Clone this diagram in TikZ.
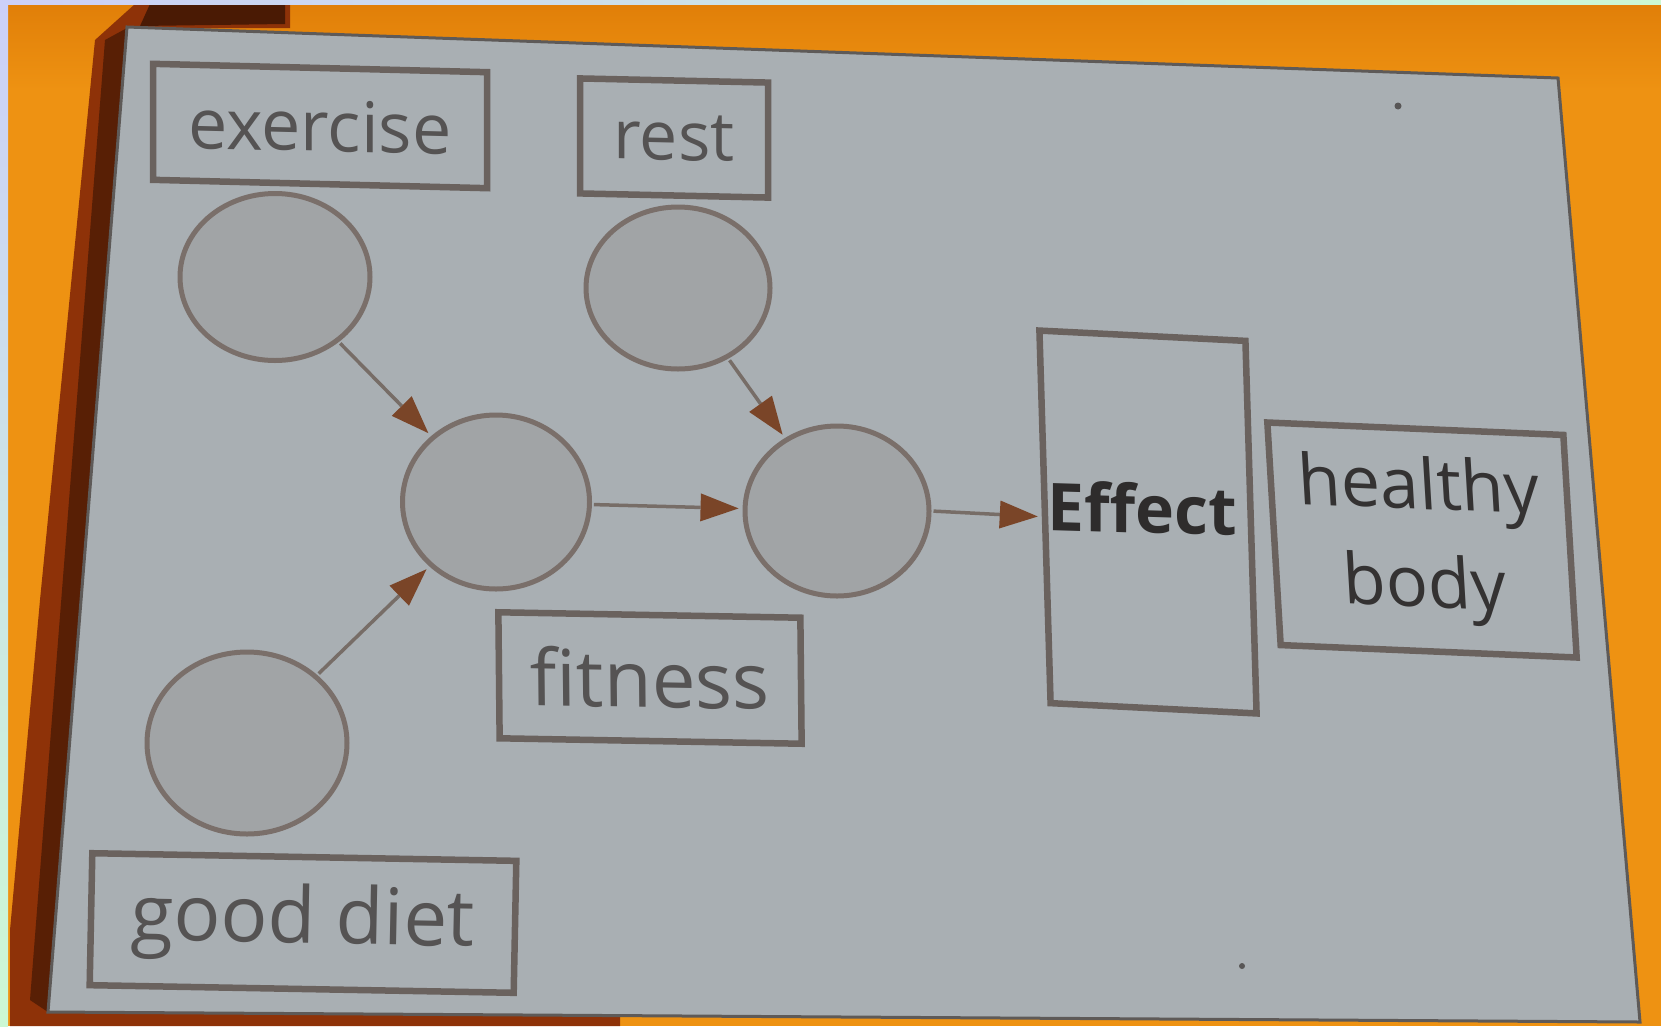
\documentclass[tikz,border=0pt]{standalone}
\usepackage{fontspec}
\setmainfont{Open Sans}
\usetikzlibrary{shapes.geometric,arrows.meta}
\definecolor{orng}{HTML}{EE9212}
\definecolor{orngdk}{HTML}{E07E08}
\definecolor{brwn}{HTML}{8E3208}
\definecolor{brwndk}{HTML}{4A1A04}
\definecolor{card}{HTML}{A9AFB3}
\definecolor{cardedge}{HTML}{5E5A58}
\definecolor{boxline}{HTML}{6A625E}
\definecolor{circline}{HTML}{7A6F6A}
\definecolor{circfill}{HTML}{A1A4A6}
\definecolor{arrline}{HTML}{776D67}
\definecolor{arrhead}{HTML}{7A4528}
\definecolor{txtgrey}{HTML}{555353}
\definecolor{txtdark}{HTML}{2E2C2C}
\definecolor{lav}{HTML}{CCD0F8}
\definecolor{mint}{HTML}{CCF8D4}
\tikzset{
  labelbox/.style={draw=boxline, line width=6.5pt, fill=card, inner sep=0pt, text=txtgrey},
  bubble/.style={ellipse, draw=circline, line width=5pt, fill=circfill, inner sep=0pt},
  link/.style={draw=arrline, line width=3.5pt, -{Triangle[length=38pt,width=28pt,fill=arrhead,line width=0pt]}, shorten >=4pt, shorten <=2pt},
  speck/.style={circle, fill=txtdark!80, inner sep=0pt, minimum size=7pt}
}
\begin{document}
\begin{tikzpicture}[x=1pt,y=-1pt]
\useasboundingbox (0,0) rectangle (1661,1026);
% background
\fill[orng] (0,0) rectangle (1661,1026);
\shade[top color=orngdk, bottom color=orng] (0,0) rectangle (1661,90);
\fill[brwn] (135,4) -- (290,4) -- (290,28) -- (127,28) -- (48,1012) -- (620,1016) -- (620,1026) -- (10,1026) -- (10,930) -- (40,600) -- (95,40) -- cycle;
\fill[brwndk] (150,4) -- (285,4) -- (285,24) -- (140,26) -- cycle;
\fill[brwndk!80!brwn] (127,28) -- (48,1012) -- (30,1000) -- (105,40) -- cycle;
% light frame
\shade[top color=lav, bottom color=mint] (0,0) rectangle (8,1026);
\shade[left color=lav, right color=mint] (0,0) rectangle (1661,4);
% card
\filldraw[fill=card, draw=cardedge, line width=3pt] (127,27) -- (1558,78) -- (1640,1022) -- (48,1012) -- cycle;
% specks
\node[speck] (s1) at (1398,106) {};
\node[speck, minimum size=6pt] (s2) at (1242,966) {};
% circles
\node[bubble, minimum width=190pt, minimum height=167pt] (exc) at (275,277) {};
\node[bubble, minimum width=184pt, minimum height=162pt] (rstc) at (678,288) {};
\node[bubble, minimum width=187pt, minimum height=174pt] (fitc) at (496,502) {};
\node[bubble, minimum width=184pt, minimum height=170pt] (effc) at (837,511) {};
\node[bubble, minimum width=200pt, minimum height=182pt] (dietc) at (247,743) {};
% boxes
\node[labelbox, yslant=-0.025, minimum width=334pt, minimum height=116pt, font=\fontsize{70}{80}\selectfont] (exbox) at (320,126) {exercise};
\node[labelbox, yslant=-0.022, minimum width=188pt, minimum height=115pt, font=\fontsize{68}{80}\selectfont] (rstbox) at (674,138) {rest};
\node[labelbox, yslant=-0.018, xslant=-0.01, minimum width=302pt, minimum height=126pt, font=\fontsize{78}{90}\selectfont] (fitbox) at (650,678) {fitness};
\node[labelbox, yslant=-0.018, xslant=0.02, minimum width=424pt, minimum height=132pt, font=\fontsize{78}{90}\selectfont] (dietbox) at (303,923) {good diet};
\node[labelbox, yslant=-0.05, xslant=-0.03, minimum width=206pt, minimum height=372pt] (effbox) at (1148,522) {};
\node[text=txtdark, yslant=-0.03, font=\fontsize{66}{80}\selectfont\bfseries, inner sep=0pt] (efftxt) at (1142,508) {Effect};
\node[labelbox, yslant=-0.042, xslant=-0.06, minimum width=296pt, minimum height=222pt, text=txtdark!85!txtgrey, align=center, font=\fontsize{70}{98}\selectfont] (hbbox) at (1422,540) {healthy\\body};
% connectors
\draw[link] (exc) -- (fitc);
\draw[link] (dietc) -- (fitc);
\draw[link] (fitc) -- (effc);
\draw[link] (rstc) -- (effc);
\draw[link] (effc.east) -- (effbox.west);
\end{tikzpicture}
\end{document}
